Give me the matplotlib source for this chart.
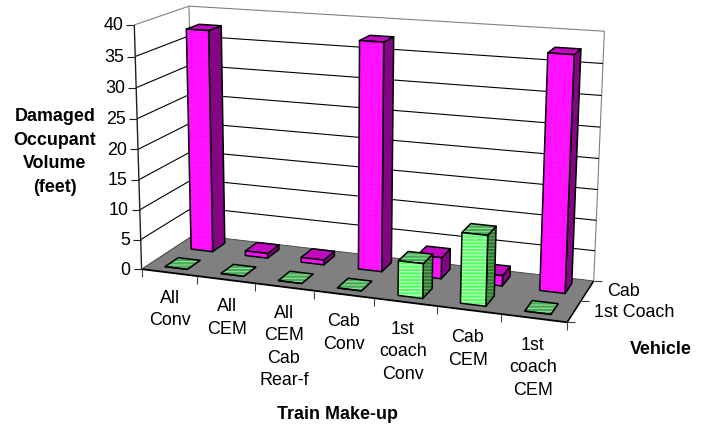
import numpy as np
import matplotlib
matplotlib.use("Agg")
import matplotlib.pyplot as plt
from matplotlib.patches import Polygon

plt.rcParams["font.family"] = ["Liberation Sans", "DejaVu Sans"]
plt.rcParams["hatch.linewidth"] = 0.8

categories = ["All\nConv", "All\nCEM", "All\nCEM\nCab\nRear-f", "Cab\nConv",
              "1st\ncoach\nConv", "Cab\nCEM", "1st\ncoach\nCEM"]
series_names = ["1st Coach", "Cab"]
first_coach = [0, 0, 0, 0, 5.6, 11.2, 0]
cab = [37.5, 0.8, 0.8, 37.5, 3.5, 1.7, 37.5]
value_ticks = [0, 5, 10, 15, 20, 25, 30, 35, 40]
value_max = 40

label_centres = [(170, 309.5), (227, 318), (284, 347), (344, 333), (403, 352), (468, 349), (533, 368)]

BAR_W = 0.40
BAR_D = 0.50

# Frame anchors of the chart box: (category frac, depth frac, height frac) -> pixel
anchors = [
    ((0, 0, 0), (143, 269)), ((0, 1, 0), (192, 237)), ((1, 1, 0), (594, 281)),
    ((1, 0, 0), (567, 324)), ((0, 0, 1), (133, 26)), ((0, 1, 1), (191, 7)),
    ((1, 1, 1), (604, 32)), ((1 / 7, 0, 0), (198, 276.5)), ((2 / 7, 0, 0), (255, 284)),
    ((3 / 7, 0, 0), (314, 291.5)), ((5 / 7, 0, 0), (437, 307.5)), ((6 / 7, 0, 0), (501, 315.5)),
    ((0, 0, 0.5), (137, 151)),
]


def fit_camera(points):
    """Least-squares projective camera from box anchors."""
    rows = []
    for (u, v, w), (x, y) in points:
        p = [u, v, w, 1]
        rows.append(p + [0, 0, 0, 0] + [-x * c for c in p])
        rows.append([0, 0, 0, 0] + p + [-y * c for c in p])
    return np.linalg.svd(np.array(rows, float))[2][-1].reshape(3, 4)


CAM = fit_camera(anchors)


def proj(u, v, w):
    h = CAM @ np.array([u, v, w, 1.0])
    return h[0] / h[2], h[1] / h[2]


def pt(cat, ser, val):
    """Position in chart units: category slot, series slot, axis value."""
    return proj(cat / len(categories), ser / len(series_names), val / value_max)


fig = plt.figure(figsize=(7.05, 4.27), dpi=100)
ax = fig.add_axes([0, 0, 1, 1])
ax.set_xlim(0, 705)
ax.set_ylim(427, 0)
ax.axis("off")

WALL = "#808080"
n_cat, n_ser = len(categories), len(series_names)


def line(a, b, color="black", lw=0.8, z=1):
    ax.plot([a[0], b[0]], [a[1], b[1]], color=color, lw=lw, zorder=z, solid_capstyle="butt")


# Floor
ax.add_patch(Polygon([pt(0, 0, 0), pt(0, n_ser, 0), pt(n_cat, n_ser, 0), pt(n_cat, 0, 0)],
                     closed=True, facecolor="#808080", edgecolor="none", zorder=1))

# Wall outlines
line(pt(0, 0, value_max), pt(0, n_ser, value_max), WALL)
line(pt(0, n_ser, value_max), pt(n_cat, n_ser, value_max), WALL)
line(pt(n_cat, n_ser, value_max), pt(n_cat, n_ser, 0), WALL)
line(pt(0, n_ser, value_max), pt(0, n_ser, 0), WALL)

# Gridlines along the side wall and the back wall
for t in value_ticks[1:-1]:
    line(pt(0, 0, t), pt(0, n_ser, t))
    line(pt(0, n_ser, t), pt(n_cat, n_ser, t))

# Axis lines
line(pt(0, 0, 0), pt(0, 0, value_max), color="#202020", lw=1.0, z=2)
line(pt(0, 0, 0), pt(n_cat, 0, 0), lw=1.3, z=2)
line(pt(n_cat, 0, 0), pt(n_cat, n_ser, 0), lw=1.1, z=2)
line(pt(0, 0, 0), pt(0, n_ser, 0), color="#404040", lw=0.7, z=2)
line(pt(0, n_ser, 0), pt(n_cat, n_ser, 0), color="#404040", lw=0.6, z=2)

# Value tick marks
for t in value_ticks:
    x, y = pt(0, 0, t)
    line((x - 8, y), (x, y), color="#202020", lw=0.8, z=2)
# Category tick marks
for i in range(n_cat + 1):
    x, y = pt(i, 0, 0)
    line((x, y), (x, y + 8), color="#404040", lw=0.8, z=2)
# Series tick marks
for j in range(n_ser + 1):
    x, y = pt(n_cat, j, 0)
    line((x, y), (x + 8, y), color="#404040", lw=0.8, z=2)


def face(points, fill, z, hatch=None, hatch_color=None):
    if hatch:
        ax.add_patch(Polygon(points, closed=True, facecolor=fill, edgecolor=hatch_color,
                             hatch=hatch, lw=0, zorder=z))
        ax.add_patch(Polygon(points, closed=True, facecolor="none", edgecolor="black",
                             lw=1.1, joinstyle="round", zorder=z + 0.01))
    else:
        ax.add_patch(Polygon(points, closed=True, facecolor=fill, edgecolor="black",
                             lw=1.1, joinstyle="round", zorder=z))


def bar(cat, ser, val, style, z):
    x0, x1 = cat + 0.5 - BAR_W / 2, cat + 0.5 + BAR_W / 2
    y0, y1 = ser + 0.5 - BAR_D / 2, ser + 0.5 + BAR_D / 2
    face([pt(x1, y0, 0), pt(x1, y1, 0), pt(x1, y1, val), pt(x1, y0, val)], style["side"], z,
         style["hatch"], style["side_hatch"])
    face([pt(x0, y0, val), pt(x1, y0, val), pt(x1, y1, val), pt(x0, y1, val)], style["top"], z + 0.1,
         style["hatch"], style["top_hatch"])
    face([pt(x0, y0, 0), pt(x1, y0, 0), pt(x1, y0, val), pt(x0, y0, val)], style["front"], z + 0.2,
         style["hatch"], style["front_hatch"])


cab_style = dict(front="#FF00FF", side="#800080", top="#C000C0", hatch="........",
                 front_hatch="#FF30FF", top_hatch="#C818C8", side_hatch="#8C108C")
coach_style = dict(front="#55FF66", side="#2A7A2A", top="#44AA55", hatch="-----",
                   front_hatch="#CCFFCC", top_hatch="#99DD99", side_hatch="#66AA66")

for i, v in enumerate(cab):
    bar(i, 1, v, cab_style, 3 + i * 0.5)
for i, v in enumerate(first_coach):
    bar(i, 0, v, coach_style, 8 + i * 0.5)

# Text
FS = 12.9
for t in value_ticks:
    x, y = pt(0, 0, t)
    ax.text(x - 11, y, str(t), ha="right", va="center", fontsize=FS, color="black")
for lab, (x, y) in zip(categories, label_centres):
    ax.text(x, y, lab, ha="center", va="center", fontsize=FS, linespacing=1.42, color="black")
ax.text(623, 292, series_names[1], ha="center", va="center", fontsize=FS)
ax.text(634, 313, series_names[0], ha="center", va="center", fontsize=FS)
ax.text(55, 152, "Damaged\nOccupant\nVolume\n(feet)", ha="center", va="center",
        fontsize=FS, fontweight="bold", linespacing=1.5)
ax.text(337, 415, "Train Make-up", ha="center", va="center", fontsize=FS, fontweight="bold")
ax.text(660.5, 350, "Vehicle", ha="center", va="center", fontsize=FS, fontweight="bold")

fig.savefig("out.png", dpi=100)
